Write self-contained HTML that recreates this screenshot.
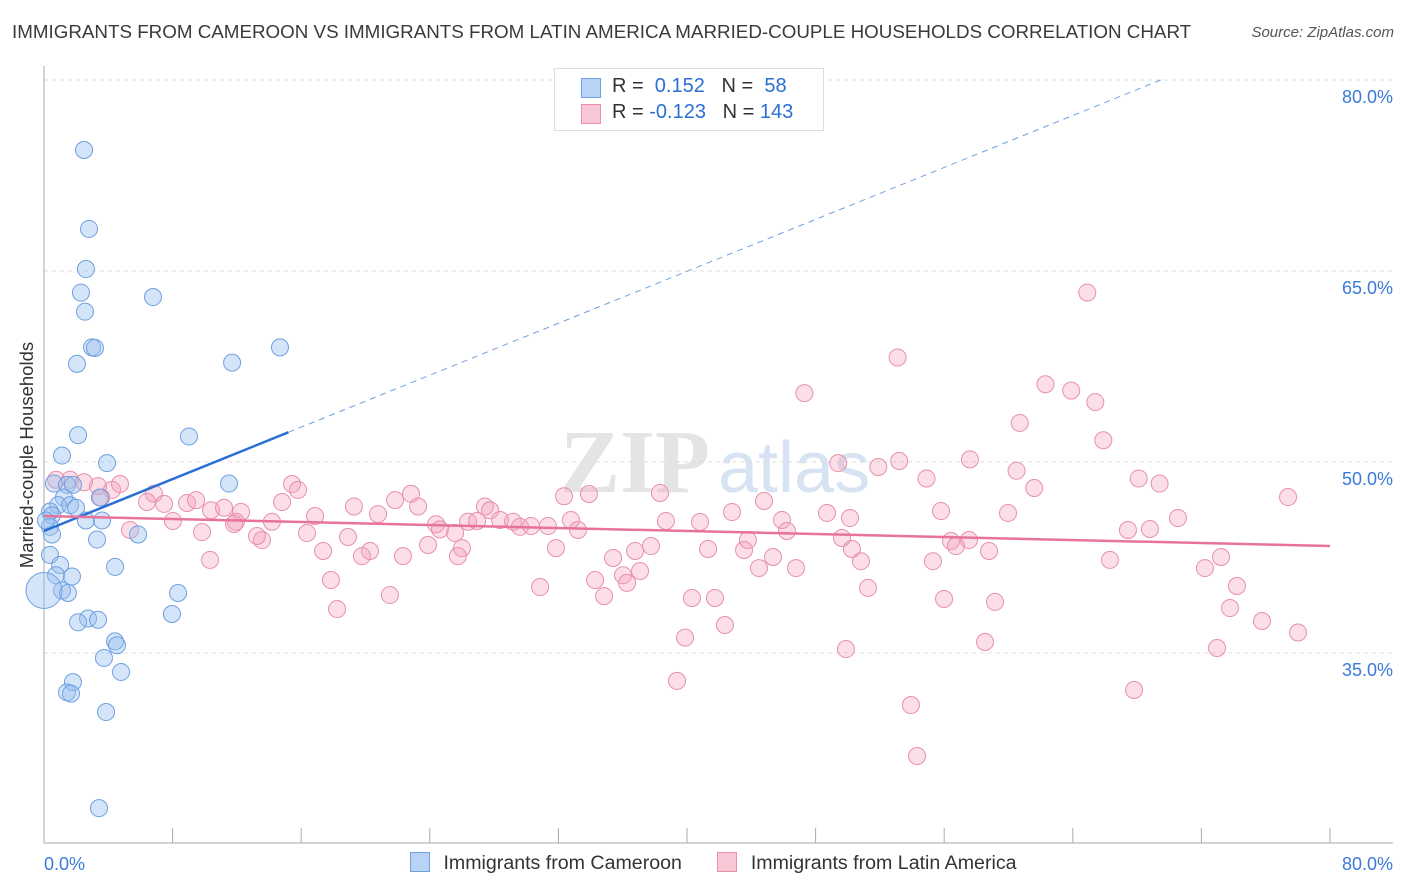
<!DOCTYPE html>
<html><head><meta charset="utf-8"><style>
body{margin:0;background:#fff;font-family:"Liberation Sans",sans-serif;}
#wrap{position:relative;width:1406px;height:892px;overflow:hidden;}
.t{position:absolute;white-space:nowrap;}
</style></head><body>
<div id="wrap">
<div class="t" style="left:12px;top:21px;font-size:18.8px;color:#3a3a3a;">IMMIGRANTS FROM CAMEROON VS IMMIGRANTS FROM LATIN AMERICA MARRIED-COUPLE HOUSEHOLDS CORRELATION CHART</div>
<div class="t" style="right:12px;top:24px;font-size:15px;color:#555;font-style:italic;">Source: ZipAtlas.com</div>
<svg id="plot" width="1406" height="892" style="position:absolute;left:0;top:0">
<text x="560" y="492" font-size="90" fill="#e4e4e4" font-family="Liberation Serif" font-weight="bold">ZIP</text>
<text x="718" y="492" font-size="72" fill="#d7e3f3" font-family="Liberation Sans">atlas</text>
</svg>
<div class="t" style="left:-93px;top:444px;font-size:18.5px;color:#333;transform:rotate(-90deg);transform-origin:center;width:240px;text-align:center;">Married-couple Households</div>
<div style="position:absolute;left:554px;top:68px;width:268px;height:61px;border:1px solid #ddd;background:#fff;font-size:20px;color:#333;">
 <div style="position:absolute;left:26px;top:9px;width:18px;height:18px;background:#b8d3f5;border:1px solid #6fa0e0;"></div>
 <div class="t" style="left:57px;top:6px;">R = &nbsp;<span style="color:#2a6fd6">0.152</span> &nbsp;&nbsp;N = &nbsp;<span style="color:#2a6fd6">58</span></div>
 <div style="position:absolute;left:26px;top:35px;width:18px;height:18px;background:#f8c8d6;border:1px solid #e890aa;"></div>
 <div class="t" style="left:57px;top:32px;">R = <span style="color:#2a6fd6">-0.123</span> &nbsp;&nbsp;N = <span style="color:#2a6fd6">143</span></div>
</div>
<div style="position:absolute;left:410px;top:852px;font-size:19.6px;color:#333;">
 <span style="display:inline-block;width:18px;height:18px;background:#b8d3f5;border:1px solid #6fa0e0;vertical-align:-3px;"></span>
 <span style="margin-left:8px">Immigrants from Cameroon</span>
 <span style="display:inline-block;width:18px;height:18px;background:#f8c8d6;border:1px solid #e890aa;vertical-align:-3px;margin-left:30px;"></span>
 <span style="margin-left:8px">Immigrants from Latin America</span>
</div>
</div>
<script>
const yTicks=[80,65,50,35];
const yTickLabels=["80.0%","65.0%","50.0%","35.0%"];
const xTickVals=[0,8,16,24,32,40,48,56,64,72,80];
const xEndLabels=["0.0%","80.0%"];
const blueX=[2.49,2.80,2.61,2.30,2.55,6.78,2.99,3.17,2.05,11.70,14.68,2.12,9.02,1.12,3.92,11.51,0.62,1.43,1.80,1.24,3.48,0.87,1.62,1.99,0.37,0.50,2.61,3.61,0.37,0.50,3.30,5.85,0.37,1.00,4.42,0.75,1.74,1.12,1.49,8.34,2.74,2.12,3.36,7.96,4.42,4.54,3.73,4.79,1.80,1.43,1.68,3.86,3.42,0.12];
const blueY=[74.5,68.3,65.15,63.3,61.8,62.95,59.0,58.95,57.7,57.8,59.0,52.1,52.0,50.5,49.9,48.3,48.3,48.2,48.2,47.2,47.2,46.6,46.6,46.4,46.1,45.8,45.4,45.4,44.9,44.3,43.9,44.3,42.7,41.9,41.75,41.1,41.0,39.9,39.7,39.7,37.7,37.4,37.6,38.05,35.9,35.6,34.6,33.5,32.7,31.9,31.8,30.35,22.8,45.4];
const pinkX=[64.9,53.1,62.3,63.9,47.3,65.4,60.7,65.9,49.4,51.9,53.2,57.6,60.5,54.9,68.1,69.4,61.6,0.75,1.62,2.49,3.36,4.23,4.73,6.84,3.55,6.41,7.47,8.90,9.46,10.39,11.20,12.26,11.94,14.18,14.81,15.43,15.80,16.86,19.28,20.78,21.84,22.83,23.27,24.39,24.63,26.38,26.94,27.43,27.75,28.37,29.18,29.61,30.30,31.35,32.35,32.78,33.90,33.22,38.32,38.69,40.81,42.80,44.79,45.91,46.22,48.71,50.14,55.80,59.97,68.80,67.43,70.54,77.39,5.35,8.02,9.83,11.82,13.56,13.25,16.36,17.36,18.91,20.28,19.78,22.33,23.89,25.57,26.00,25.75,31.85,35.40,36.77,37.76,37.08,36.02,36.27,41.31,43.55,43.79,45.35,44.48,46.78,49.64,50.26,50.82,56.42,57.54,56.73,58.79,55.30,66.31,72.22,73.22,74.21,73.78,75.77,78.01,72.97,10.33,17.85,18.23,21.52,30.86,34.28,34.84,40.31,41.74,42.36,39.88,51.26,55.99,59.16,58.54,49.89,39.38,53.93,54.31,67.81];
const pinkY=[63.3,58.2,56.1,55.6,55.4,54.7,53.06,51.7,49.9,49.6,50.07,50.2,49.3,48.7,48.7,48.3,47.95,48.6,48.6,48.4,48.1,47.8,48.26,47.5,47.2,46.85,46.7,46.77,47.0,46.2,46.4,46.07,45.3,45.3,46.85,48.26,47.8,45.75,46.5,45.9,47.0,47.5,46.5,45.1,44.7,45.3,45.36,46.5,46.2,45.44,45.3,44.9,44.96,44.96,47.3,45.44,47.48,44.65,47.56,45.36,45.28,46.06,46.93,45.44,44.57,45.99,45.59,46.14,45.99,44.73,44.65,45.59,47.24,44.65,45.36,44.49,45.12,43.86,44.18,44.41,43.0,44.1,43.0,42.6,42.6,43.47,44.41,43.23,42.6,43.23,42.45,43.0,43.39,41.43,41.1,40.5,43.16,43.08,43.86,42.53,41.66,41.66,44.02,43.16,42.2,43.79,43.86,43.39,43.0,42.2,42.3,41.66,42.53,40.25,38.52,37.5,36.6,35.38,42.3,40.72,38.44,39.54,40.17,40.72,39.46,39.31,39.31,37.19,36.2,40.1,39.23,39.0,35.85,35.3,32.8,30.9,26.9,32.08];
const blueTrend=[44.57,0.51];
const pinkTrend=[45.75,-0.0295];
const blueSolidEnd=15.2;

const NS="http://www.w3.org/2000/svg";
const svg=document.getElementById('plot');
const X0=44,X1=1330;
const sx=v=>X0+(v/80)*(X1-X0);
const sy=v=>80+(80-v)*12.73;
function mk(tag,attrs){const e=document.createElementNS(NS,tag);for(const k in attrs)e.setAttribute(k,attrs[k]);svg.appendChild(e);return e;}

yTicks.forEach((t,i)=>{
  const g=mk('line',{x1:X0,x2:1393,y1:sy(t),y2:sy(t),stroke:'#ddd','stroke-dasharray':'4,4'});
  
  
  const tx=mk('text',{x:1393,y:sy(t)+23,'text-anchor':'end','font-size':18,fill:'#3b7ad9'});
  tx.textContent=yTickLabels[i];
  
  
});
const ya=mk('line',{x1:X0,x2:X0,y1:66,y2:843,stroke:'#aaa'});


const xa=mk('line',{x1:X0,x2:1393,y1:843,y2:843,stroke:'#aaa'});


xTickVals.forEach(v=>{
  const t=mk('line',{x1:sx(v),x2:sx(v),y1:828,y2:843,stroke:'#aaa'});
  
  
});
const xl0=mk('text',{x:44,y:870,'font-size':18,fill:'#3b7ad9'});xl0.textContent=xEndLabels[0];


const xl1=mk('text',{x:1393,y:870,'font-size':18,fill:'#3b7ad9','text-anchor':'end'});xl1.textContent=xEndLabels[1];



pinkX.forEach((x,i)=>{
  const c=mk('circle',{cx:sx(x),cy:sy(pinkY[i]),r:8.5,fill:'rgba(244,160,185,0.35)',stroke:'#e890aa','stroke-width':1});
  
  
});
blueX.forEach((x,i)=>{
  const c=mk('circle',{cx:sx(x),cy:sy(blueY[i]),r:8.5,fill:'rgba(150,190,240,0.4)',stroke:'#6fa0e0','stroke-width':1});
  
  
});
const big=mk('circle',{cx:sx(0),cy:sy(39.9),r:18,fill:'rgba(150,190,240,0.4)',stroke:'#6fa0e0'});



const by=x=>blueTrend[0]+blueTrend[1]*x;
const xEnd=(80-blueTrend[0])/blueTrend[1];
const bd=mk('line',{x1:sx(blueSolidEnd),y1:sy(by(blueSolidEnd)),x2:sx(xEnd),y2:sy(80),stroke:'#6fa0e0','stroke-width':1,'stroke-dasharray':'6,5'});


const bl=mk('line',{x1:sx(0),y1:sy(by(0)),x2:sx(blueSolidEnd),y2:sy(by(blueSolidEnd)),stroke:'#2a6fd6','stroke-width':2.5});


const py=x=>pinkTrend[0]+pinkTrend[1]*x;
const pl=mk('line',{x1:sx(0),y1:sy(py(0)),x2:sx(80),y2:sy(py(80)),stroke:'#e8739a','stroke-width':2.5});


</script>
</body></html>
